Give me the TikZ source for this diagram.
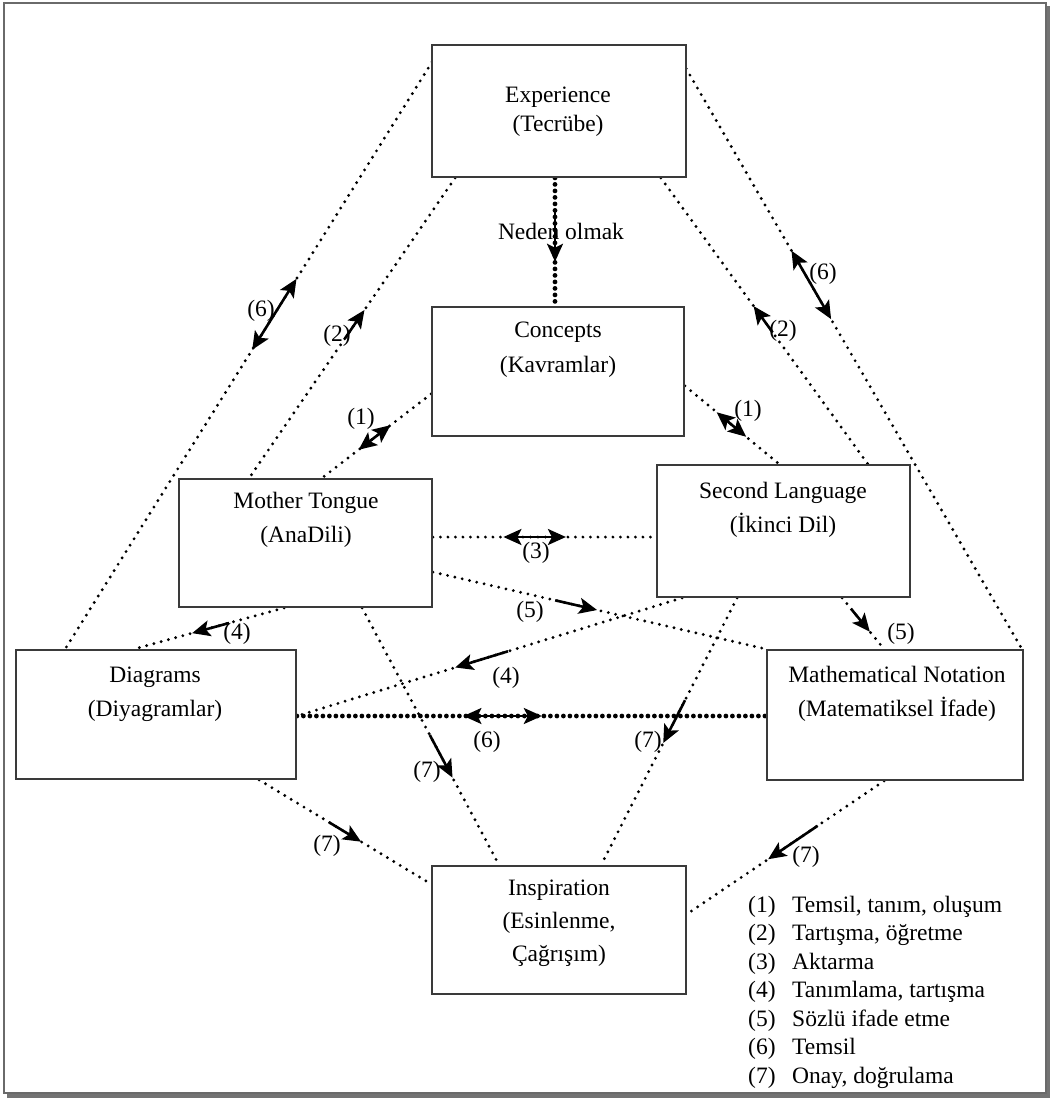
\documentclass[tikz,border=0pt]{standalone}
\usepackage{fontspec}
\setmainfont{Liberation Serif}
\usetikzlibrary{arrows.meta,calc,backgrounds}
\definecolor{boxgray}{HTML}{3A3A3A}
\definecolor{framegray}{HTML}{6A6A6A}
\begin{document}
\begin{tikzpicture}[x=1pt,y=-1pt,
  box/.style={draw=boxgray,line width=1.8pt,fill=white,rectangle,inner sep=0pt},
  txt/.style={font=\fontsize{23.5}{34}\selectfont,align=center,inner sep=0pt},
  num/.style={font=\fontsize{23.5}{28}\selectfont,inner sep=0pt},
  dots/.style={line width=3.2pt,line cap=round,dash pattern=on 0pt off 7.5pt},
  bigdots/.style={line width=4.8pt,line cap=round,dash pattern=on 0pt off 6.5pt},
  arr/.style={line width=2.6pt,-{Stealth[length=18pt,width=16pt,inset=4pt]}},
  darr/.style={line width=2.6pt,{Stealth[length=18pt,width=16pt,inset=4pt]}-{Stealth[length=18pt,width=16pt,inset=4pt]}}]
\useasboundingbox (0,0) rectangle (1055,1101);

% boxes
\node[box,minimum width=254pt,minimum height=132pt] (exp) at (559,111) {};
\node[box,minimum width=252pt,minimum height=129pt] (con) at (558,371.5) {};
\node[box,minimum width=253pt,minimum height=128pt] (mot) at (305.5,543) {};
\node[box,minimum width=253pt,minimum height=132pt] (sec) at (783.5,531) {};
\node[box,minimum width=280pt,minimum height=129pt] (dia) at (156,714.5) {};
\node[box,minimum width=256pt,minimum height=130pt] (mat) at (895,715) {};
\node[box,minimum width=254pt,minimum height=128pt] (ins) at (559,930) {};

% box texts
\node[txt,font=\fontsize{23.5}{29}\selectfont] (texp) at (558,112) {Experience\\(Tecrübe)};
\node[txt,font=\fontsize{23.5}{35}\selectfont] (tcon) at (558,350) {Concepts\\(Kavramlar)};
\node[txt] (tmot) at (306,520) {Mother Tongue\\(AnaDili)};
\node[txt] (tsec) at (783,510) {Second Language\\(İkinci Dil)};
\node[txt] (tdia) at (155,694) {Diagrams\\(Diyagramlar)};
\node[txt] (tmat) at (897,694) {Mathematical Notation\\(Matematiksel İfade)};
\node[txt,font=\fontsize{23.5}{33}\selectfont] (tins) at (559,923) {Inspiration\\(Esinlenme,\\Çağrışım)};

% endpoints
\coordinate (a1) at ($(exp.north west)+(9,5)$);   \coordinate (b1) at ($(dia.north west)+(50,0)$);
\coordinate (a2) at ($(exp.south west)+(24,0)$);  \coordinate (b2) at ($(mot.north west)+(71,0)$);
\coordinate (a3) at ($(exp.south)+(-4,0)$);       \coordinate (b3) at ($(con.north)+(-3,0)$);
\coordinate (a4) at ($(exp.south east)+(-26,0)$); \coordinate (b4) at ($(sec.north east)+(-43,0)$);
\coordinate (a5) at ($(exp.north east)+(-12,5)$); \coordinate (b5) at ($(mat.north east)+(-2,0)$);
\coordinate (a6) at ($(con.south west)+(0,-43)$); \coordinate (b6) at ($(mot.north east)+(-111,0)$);
\coordinate (a7) at ($(con.south east)+(0,-51)$); \coordinate (b7) at ($(sec.north west)+(123,0)$);
\coordinate (a8) at ($(mot.east)+(0,-6)$);        \coordinate (b8) at ($(sec.west)+(0,6)$);
\coordinate (a9) at ($(mot.east)+(0,29)$);        \coordinate (b9) at (mat.north west);
\coordinate (a10) at ($(mot.south west)+(106,0)$); \coordinate (b10) at ($(dia.north west)+(119,0)$);
\coordinate (a11) at ($(mot.south west)+(184,0)$); \coordinate (b11) at ($(ins.north west)+(68,0)$);
\coordinate (a12) at ($(sec.south west)+(26,0)$);  \coordinate (b12) at ($(dia.east)+(0,1.5)$);
\coordinate (a13) at ($(sec.south west)+(81,0)$);  \coordinate (b13) at ($(ins.north west)+(170,0)$);
\coordinate (a14) at ($(sec.south west)+(186,0)$); \coordinate (b14) at ($(mat.north west)+(118,0)$);
\coordinate (a15) at ($(dia.east)+(0,1.5)$);       \coordinate (b15) at ($(mat.west)+(0,1)$);
\coordinate (a16) at ($(dia.south west)+(244,0)$); \coordinate (b16) at ($(ins.north west)+(0,19)$);
\coordinate (a17) at ($(mat.south west)+(118,0)$); \coordinate (b17) at ($(ins.north east)+(0,49)$);

\begin{scope}[on background layer]
  \fill[black!55] (7,6) rectangle (1050,1098);
  \draw[framegray,fill=white,line width=1.5pt] (4,3) rectangle (1046,1093);
  \foreach \i in {1,2,4,5,6,7,8,9,10,11,12,13,14,16,17} {\draw[dots] (a\i) -- (b\i);}
  \draw[bigdots] (a3) -- (b3);
  \draw[bigdots] (a15) -- (b15);
\end{scope}

% arrows on connectors
\draw[darr] ($(a1)!0.501!(b1)$) -- ($(a1)!0.383!(b1)$);
\draw[arr]  ($(a2)!0.535!(b2)$) -- ($(a2)!0.44!(b2)$);
\draw[arr]  ($(a3)!0.25!(b3)$) -- ($(a3)!0.654!(b3)$);
\draw[arr]  ($(a4)!0.54!(b4)$) -- ($(a4)!0.448!(b4)$);
\draw[darr] ($(a5)!0.336!(b5)$) -- ($(a5)!0.45!(b5)$);
\draw[darr] ($(a6)!0.663!(b6)$) -- ($(a6)!0.372!(b6)$);
\draw[darr] ($(a7)!0.3375!(b7)$) -- ($(a7)!0.65!(b7)$);
\draw[darr] ($(a8)!0.316!(b8)$) -- ($(a8)!0.596!(b8)$);
\draw[arr]  ($(a9)!0.367!(b9)$) -- ($(a9)!0.4925!(b9)$);
\draw[arr]  ($(a10)!0.367!(b10)$) -- ($(a10)!0.613!(b10)$);
\draw[arr]  ($(a11)!0.494!(b11)$) -- ($(a11)!0.66!(b11)$);
\draw[arr]  ($(a12)!0.452!(b12)$) -- ($(a12)!0.589!(b12)$);
\draw[arr]  ($(a13)!0.383!(b13)$) -- ($(a13)!0.543!(b13)$);
\draw[arr]  ($(a14)!0.21!(b14)$) -- ($(a14)!0.66!(b14)$);
\draw[darr] ($(a15)!0.355!(b15)$) -- ($(a15)!0.522!(b15)$);
\draw[arr]  ($(a16)!0.407!(b16)$) -- ($(a16)!0.593!(b16)$);
\draw[arr]  ($(a17)!0.337!(b17)$) -- ($(a17)!0.588!(b17)$);

% labels
\node[num] (n1) at (261,311) {(6)};
\node[num] (n2) at (337,336) {(2)};
\node[num] (n3) at (561,231) {Neden olmak};
\node[num] (n4) at (783,331) {(2)};
\node[num] (n5) at (823,274) {(6)};
\node[num] (n6) at (361,419) {(1)};
\node[num] (n7) at (748,411) {(1)};
\node[num] (n8) at (536,553) {(3)};
\node[num] (n9) at (530,612) {(5)};
\node[num] (n10) at (237,634) {(4)};
\node[num] (n11) at (427,772) {(7)};
\node[num] (n12) at (506,678) {(4)};
\node[num] (n13) at (648,742) {(7)};
\node[num] (n14) at (901,634) {(5)};
\node[num] (n15) at (487,742) {(6)};
\node[num] (n16) at (327,846) {(7)};
\node[num] (n17) at (806,857) {(7)};

% legend
\foreach \k/\t [count=\j from 0] in {1/{Temsil, tanım, oluşum},2/{Tartışma, öğretme},3/{Aktarma},4/{Tanımlama, tartışma},5/{Sözlü ifade etme},6/{Temsil},7/{Onay, doğrulama}} {
  \node[num,anchor=base west] (lg\k) at (748,912+28.5*\j) {\makebox[44pt][l]{(\k)}\t};
}
\end{tikzpicture}
\end{document}
